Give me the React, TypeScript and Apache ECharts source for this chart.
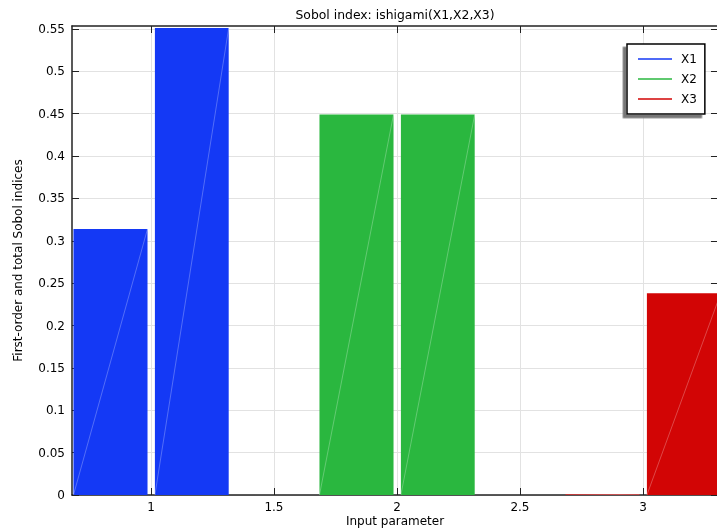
import React, { useEffect, useRef } from 'react';
import * as echarts from 'echarts';

const chartTitle = 'Sobol index: ishigami(X1,X2,X3)';
const xAxisName = 'Input parameter';
const yAxisName = 'First-order and total Sobol indices';
const params = ['X1', 'X2', 'X3'];
const paramPositions = [1, 2, 3];
const firstOrder = [0.314, 0.449, 0.0008];
const totalOrder = [0.551, 0.449, 0.238];
const xTicks = [1, 1.5, 2, 2.5, 3];
const yTicks = [0, 0.05, 0.1, 0.15, 0.2, 0.25, 0.3, 0.35, 0.4, 0.45, 0.5, 0.55];
const paramColors = ['#1439f5', '#2ab73f', '#d20505'];

const FONT = 'DejaVu Sans';
const X_MIN = 0.679;
const X_MAX = 3.305;
const Y_MIN = 0;
const Y_MAX = 0.5535;

export default function App() {
  const ref = useRef<HTMLDivElement>(null);
  useEffect(() => {
    const chart = echarts.init(ref.current!, null, { renderer: 'svg' });
    const series = params.map((name, i) => ({
      type: 'custom',
      name,
      itemStyle: { color: paramColors[i] },
      encode: { x: [0, 1], y: 2 },
      clip: true,
      data: [
        [paramPositions[i] - 0.315, paramPositions[i] - 0.014, firstOrder[i]],
        [paramPositions[i] + 0.016, paramPositions[i] + 0.316, totalOrder[i]],
      ],
      renderItem: (p: any, api: any) => {
        const a = api.coord([api.value(0), 0]);
        const b = api.coord([api.value(1), api.value(2)]);
        const rect = { x: a[0], y: b[1], width: b[0] - a[0], height: a[1] - b[1] };
        const cs = p.coordSys;
        const clipped = echarts.graphic.clipRectByRect(rect, {
          x: cs.x, y: cs.y, width: cs.width, height: cs.height,
        });
        if (!clipped) return null;
        return {
          type: 'group',
          children: [
            { type: 'rect', shape: clipped, style: { fill: api.visual('color') } },
            {
              type: 'line',
              shape: { x1: a[0], y1: a[1], x2: b[0], y2: b[1] },
              style: { stroke: 'rgba(255,255,255,0.45)', lineWidth: 0.6 },
            },
          ],
        };
      },
    }));

    const axisLineStyle = { color: '#222', width: 1.5 };
    const labelStyle = { color: '#000', fontSize: 12, fontFamily: FONT };

    chart.setOption({
      animation: false,
      textStyle: { fontFamily: FONT },
      grid: { left: 72, top: 26, right: -1, bottom: 33, outerBoundsMode: 'none', containLabel: false },
      graphic: [
        {
          type: 'text',
          x: 395,
          y: 14,
          style: {
            text: chartTitle,
            fill: '#000',
            fontSize: 12.4,
            fontFamily: FONT,
            textAlign: 'center',
            textVerticalAlign: 'middle',
          },
        },
      ],
      legend: {
        orient: 'vertical',
        left: 627,
        top: 44,
        padding: [8, 8, 8, 11],
        itemGap: 6,
        itemWidth: 34,
        itemHeight: 1.5,
        icon: 'rect',
        backgroundColor: '#fff',
        borderColor: '#000',
        borderWidth: 1.5,
        borderRadius: 0,
        shadowColor: '#777',
        shadowBlur: 0,
        shadowOffsetX: -3.5,
        shadowOffsetY: 3.5,
        textStyle: { ...labelStyle, lineHeight: 14, padding: [0, 0, 0, 4] },
        data: params,
      },
      xAxis: [
        {
          type: 'value',
          min: X_MIN,
          max: X_MAX,
          position: 'bottom',
          name: xAxisName,
          nameLocation: 'middle',
          nameGap: 20,
          nameMoveOverlap: false,
          nameTextStyle: { ...labelStyle, verticalAlign: 'top', lineHeight: 12 },
          axisLine: { onZero: false, lineStyle: axisLineStyle },
          axisTick: { inside: true, length: 7, customValues: xTicks, lineStyle: { color: '#222' } },
          axisLabel: {
            ...labelStyle,
            lineHeight: 12,
            customValues: xTicks,
            margin: 6,
            formatter: (v: number) => String(v),
          },
          splitLine: { show: true, lineStyle: { color: '#e2e2e2' } },
        },
        {
          type: 'value',
          min: X_MIN,
          max: X_MAX,
          position: 'top',
          axisLine: { onZero: false, lineStyle: axisLineStyle },
          axisTick: { inside: true, length: 7, customValues: xTicks, lineStyle: { color: '#222' } },
          axisLabel: { show: false },
          splitLine: { show: false },
        },
      ],
      yAxis: [
        {
          type: 'value',
          min: Y_MIN,
          max: Y_MAX,
          position: 'left',
          name: yAxisName,
          nameLocation: 'middle',
          nameGap: 48,
          nameMoveOverlap: false,
          nameTextStyle: labelStyle,
          axisLine: { show: true, onZero: false, lineStyle: axisLineStyle },
          axisTick: { show: true, inside: true, length: 7, customValues: yTicks, lineStyle: { color: '#222' } },
          axisLabel: {
            ...labelStyle,
            customValues: yTicks,
            margin: 7,
            formatter: (v: number) => String(v),
          },
          splitLine: { show: true, lineStyle: { color: '#e2e2e2' } },
        },
        {
          type: 'value',
          min: Y_MIN,
          max: Y_MAX,
          position: 'right',
          axisLine: { show: true, onZero: false, lineStyle: axisLineStyle },
          axisTick: { show: true, inside: true, length: 7, customValues: yTicks, lineStyle: { color: '#222' } },
          axisLabel: { show: false },
          splitLine: { show: false },
        },
      ],
      series,
    });
    return () => chart.dispose();
  }, []);
  return (
    <div
      ref={ref}
      style={{ position: 'fixed', left: 0, top: 0, width: 717, height: 528 }}
    />
  );
}
